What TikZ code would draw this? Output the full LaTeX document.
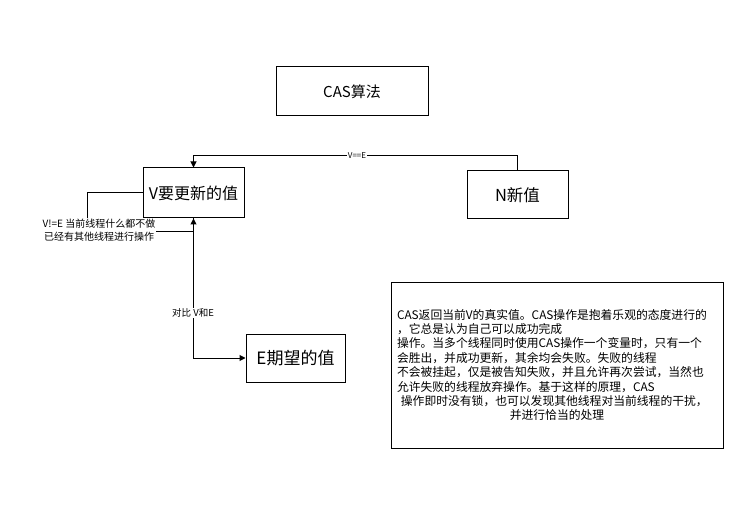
\documentclass[tikz,border=0pt]{standalone}
\usepackage{fontspec}
\setmainfont{Noto Sans CJK SC}
\usetikzlibrary{arrows.meta}
\begin{document}
\begin{tikzpicture}[x=1pt,y=-1pt,
  box/.style={draw=black, line width=1pt, fill=white, inner sep=0pt},
  conn/.style={draw=black, line width=1pt},
  arr/.style={conn, -{Triangle[length=6pt,width=6pt]}},
  lab/.style={fill=white, inner sep=1pt, align=center}]
\useasboundingbox[fill=white] (0,0) rectangle (743,518);
\node[box, minimum width=152pt, minimum height=49pt, font=\fontsize{15}{18}\selectfont] (cas) at (352,91.5) {CAS算法};
\node[box, minimum width=101pt, minimum height=50pt, font=\fontsize{16}{19}\selectfont] (v) at (193.5,193) {V要更新的值};
\node[box, minimum width=101pt, minimum height=48pt, font=\fontsize{16.5}{19}\selectfont] (n) at (517.5,195) {N新值};
\node[box, minimum width=99pt, minimum height=48pt, font=\fontsize{17}{20}\selectfont] (e) at (295.5,358) {E期望的值};
\node[box, minimum width=332pt, minimum height=166pt, text width=320pt, align=left, font=\fontsize{11.8}{14.4}\selectfont] (txt) at (557,365) {CAS返回当前V的真实值。CAS操作是抱着乐观的态度进行的\\，它总是认为自己可以成功完成\\操作。当多个线程同时使用CAS操作一个变量时，只有一个\\会胜出，并成功更新，其余均会失败。失败的线程\\不会被挂起，仅是被告知失败，并且允许再次尝试，当然也\\允许失败的线程放弃操作。基于这样的原理，CAS\\\ 操作即时没有锁，也可以发现其他线程对当前线程的干扰，\par\centering 并进行恰当的处理\par};
% V==E edge
\coordinate (c1) at (517.5,156);
\draw[arr] (n.north) -- (c1) -| (v.north);
\node[lab, font=\fontsize{8}{9}\selectfont] (eq) at (357,156) {V==E};
% V!=E loop
\coordinate (l1) at (87,193);
\coordinate (l2) at (87,232);
\draw[arr] (v.west) -- (l1) -- (l2) -| (v.south);
\node[lab, font=\fontsize{10}{13}\selectfont] (neq) at (99,230.5) {V!=E 当前线程什么都不做\\已经有其他线程进行操作};
% compare edge
\draw[arr] (v.south) |- (e.west);
\node[lab, font=\fontsize{9.5}{11}\selectfont] (cmp) at (193,313) {对比 V和E};
\end{tikzpicture}
\end{document}
